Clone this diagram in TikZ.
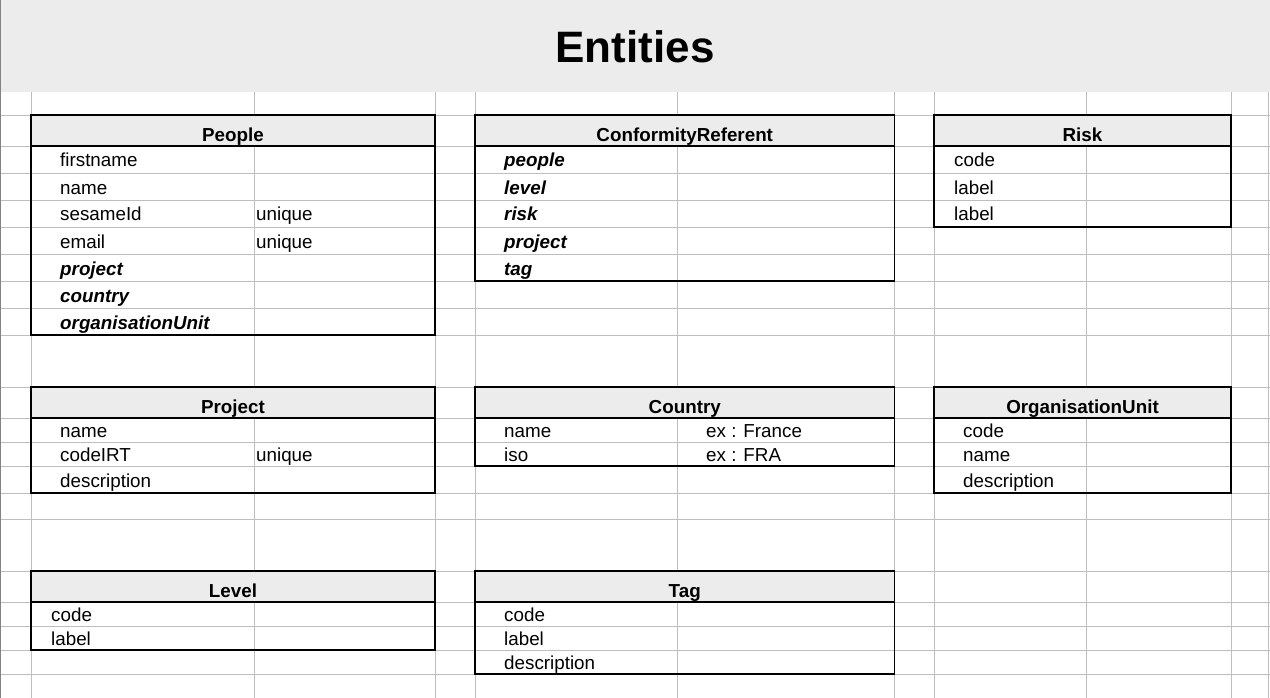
\documentclass[tikz,border=0pt]{standalone}
\usepackage{fontspec}
\setmainfont{Liberation Sans}
\definecolor{headgray}{RGB}{236,236,236}
\definecolor{gridgray}{RGB}{190,190,190}
\definecolor{edgegray}{RGB}{130,130,130}

\newcommand{\entitytable}[6]{%
  \fill[headgray] (#2,#3) rectangle (#4,#3+31);
  \draw[entitybox] (#2,#3) rectangle (#4,#5);
  \draw[entitybox] (#2,#3+31) -- (#4,#3+31);
  \node[headtext] (#1) at ({(#2+#4)/2},#3+26.5) {#6};
}

\begin{document}
\begin{tikzpicture}[
  x=1pt, y=-1pt,
  gridline/.style={draw=gridgray, line width=0.9pt},
  entitybox/.style={draw=black, line width=1.5pt},
  headtext/.style={font=\fontsize{18.8}{22}\selectfont\bfseries, anchor=base, inner sep=0pt},
  field/.style={font=\fontsize{18.8}{22}\selectfont, anchor=base west, inner sep=0pt},
  keyfield/.style={field, font=\fontsize{18.8}{22}\selectfont\bfseries\itshape}
]
\useasboundingbox (0,0) rectangle (1270,698);
% title band
\fill[headgray] (0,0) rectangle (1270,92);
\node[font=\fontsize{44}{50}\selectfont\bfseries, anchor=base, inner sep=0pt] (title) at (635,63) {Entities};
% sheet grid
\foreach \gx in {31,254,435,475,677.5,894.5,934,1086,1231,1268.5}
  \draw[gridline] (\gx,92) -- (\gx,698);
\foreach \gy in {115,146,173,200,227,254,281,308,335,387,418,442,466,493,519,571,602,626,650,674}
  \draw[gridline] (0,\gy) -- (1270,\gy);
\draw[edgegray, line width=1.2pt] (0.8,0) -- (0.8,698);

% People
\entitytable{people}{31}{115}{435}{335}{People}
\node[field] (people-firstname) at (60,167) {firstname};
\node[field] (people-name) at (60,194) {name};
\node[field] (people-sesameid) at (60,221) {sesameId};
\node[field] (people-sesameid-u) at (256,221) {unique};
\node[field] (people-email) at (60,248) {email};
\node[field] (people-email-u) at (256,248) {unique};
\node[keyfield] (people-project) at (60,275) {project};
\node[keyfield] (people-country) at (60,302) {country};
\node[keyfield] (people-orgunit) at (60,329) {organisationUnit};

% ConformityReferent
\entitytable{confref}{475}{115}{894.5}{281}{ConformityReferent}
\node[keyfield] (confref-people) at (504,167) {people};
\node[keyfield] (confref-level) at (504,194) {level};
\node[keyfield] (confref-risk) at (504,221) {risk};
\node[keyfield] (confref-project) at (504,248) {project};
\node[keyfield] (confref-tag) at (504,275) {tag};

% Risk
\entitytable{risk}{934}{115}{1231}{227}{Risk}
\node[field] (risk-code) at (954,167) {code};
\node[field] (risk-label) at (954,194) {label};
\node[field] (risk-label2) at (954,221) {label};

% Project
\entitytable{project}{31}{387}{435}{493}{Project}
\node[field] (project-name) at (60,437) {name};
\node[field] (project-codeirt) at (60,461) {codeIRT};
\node[field] (project-codeirt-u) at (256,461) {unique};
\node[field] (project-description) at (60,487) {description};

% Country
\entitytable{country}{475}{387}{894.5}{466}{Country}
\node[field] (country-name) at (504,437) {name};
\node[field] (country-name-ex) at (706,437) {ex : France};
\node[field] (country-iso) at (504,461) {iso};
\node[field] (country-iso-ex) at (706,461) {ex : FRA};

% OrganisationUnit
\entitytable{orgunit}{934}{387}{1231}{493}{OrganisationUnit}
\node[field] (orgunit-code) at (963,437) {code};
\node[field] (orgunit-name) at (963,461) {name};
\node[field] (orgunit-description) at (963,487) {description};

% Level
\entitytable{level}{31}{571}{435}{650}{Level}
\node[field] (level-code) at (51,621) {code};
\node[field] (level-label) at (51,645) {label};

% Tag
\entitytable{tag}{475}{571}{894.5}{674}{Tag}
\node[field] (tag-code) at (504,621) {code};
\node[field] (tag-label) at (504,645) {label};
\node[field] (tag-description) at (504,669) {description};
\end{tikzpicture}
\end{document}
